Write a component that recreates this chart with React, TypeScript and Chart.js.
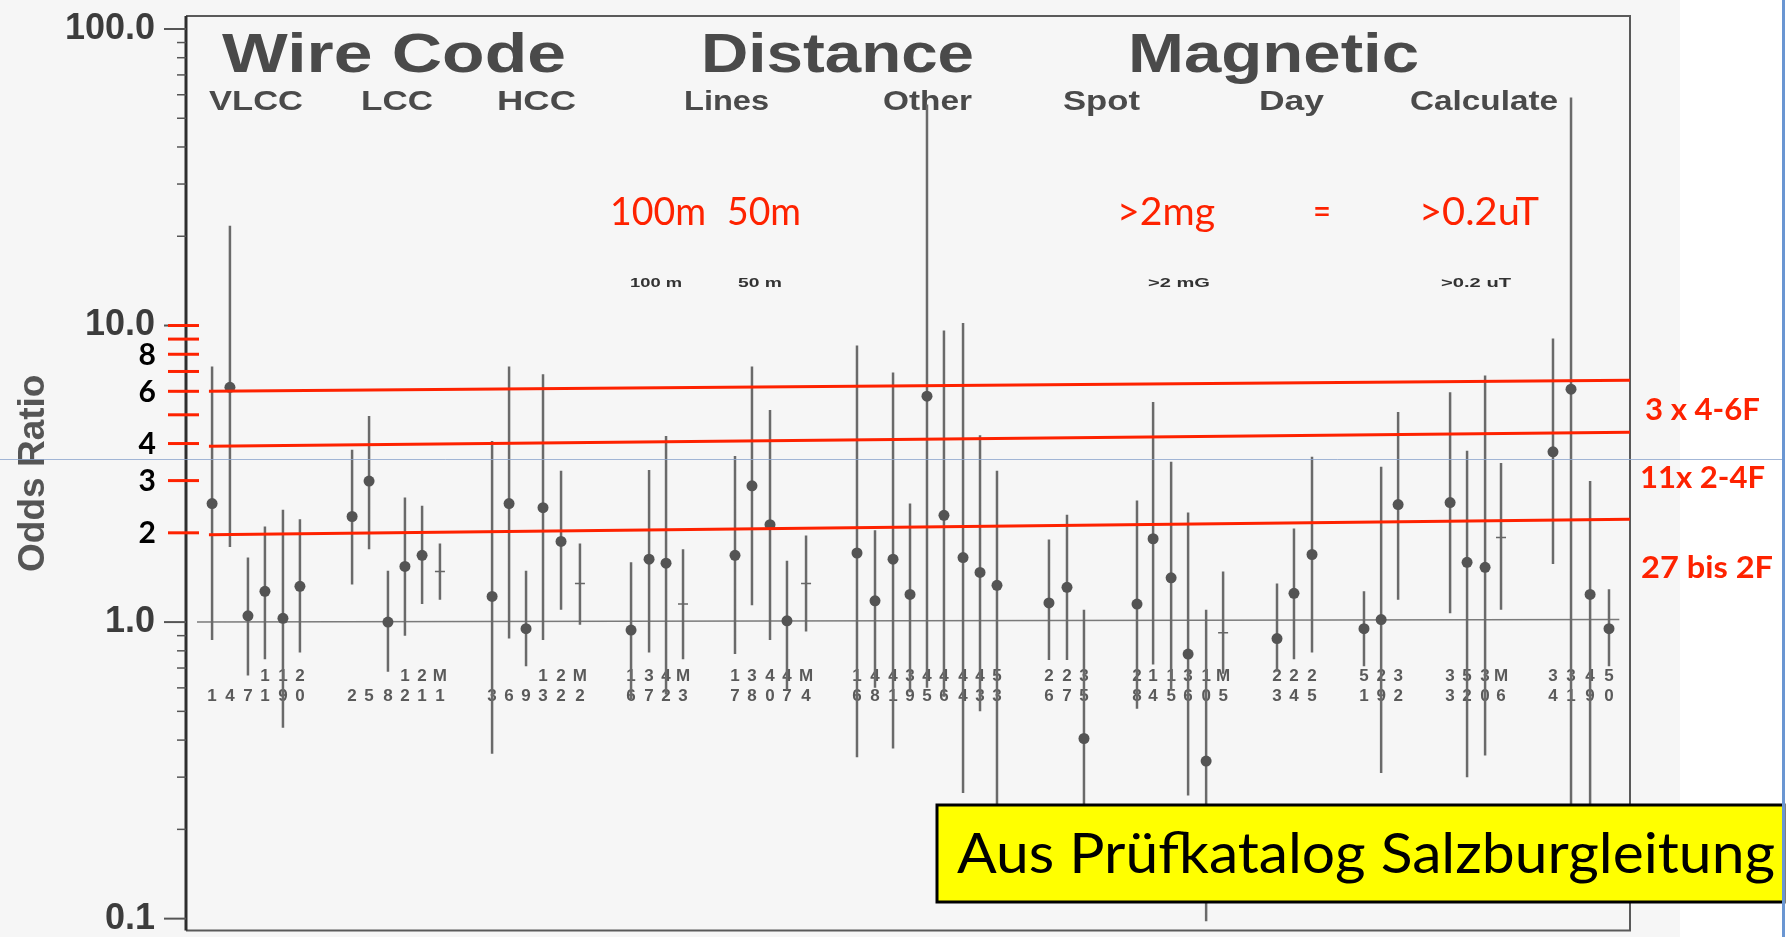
import React, { useEffect, useRef } from 'react';
import { Chart, registerables } from 'chart.js';

Chart.register(...registerables);

// ---------- data ----------
const groupTitles = ['Wire Code', 'Distance', 'Magnetic'];
const subgroupTitles = ['VLCC', 'LCC', 'HCC', 'Lines', 'Other', 'Spot', 'Day', 'Calculate'];
const redHeaderTexts = ['100m', '50m', '>2mg', '=', '>0.2uT'];
const smallHeaderTexts = ['100 m', '50 m', '>2 mG', '>0.2 uT'];
const annotationTexts = ['3 x 4-6F', '11x 2-4F', '27 bis 2F'];
const boxText = 'Aus Prüfkatalog Salzburgleitung';

// bar positions (slot units along the x axis)
const barX = [
  1.49, 2.51, 3.54, 4.51, 5.54, 6.51,
  9.49, 10.46, 11.54, 12.51, 13.49, 14.51,
  17.49, 18.46, 19.43, 20.4, 21.43, 22.51,
  25.43, 26.46, 27.43, 28.4,
  31.37, 32.34, 33.37, 34.34, 35.43,
  38.34, 39.37, 40.4, 41.37, 42.34, 43.31, 44.4, 45.37, 46.34,
  49.31, 50.34, 51.31,
  54.34, 55.26, 56.29, 57.26, 58.29, 59.26,
  62.34, 63.31, 64.34,
  67.31, 68.29, 69.26,
  72.23, 73.2, 74.23, 75.14,
  78.11, 79.14, 80.23, 81.31,
];
const estimates = [
  2.51, 6.19, 1.05, 1.27, 1.03, 1.32,
  2.27, 2.99, 1.0, 1.54, 1.68, 1.48,
  1.22, 2.51, 0.95, 2.43, 1.87, 1.35,
  0.94, 1.63, 1.58, 1.15,
  1.68, 2.88, 2.13, 1.01, 1.35,
  1.71, 1.18, 1.63, 1.24, 5.78, 2.29, 1.65, 1.47, 1.33,
  1.16, 1.31, 0.405,
  1.15, 1.91, 1.41, 0.78, 0.34, 0.92,
  0.88, 1.25, 1.69,
  0.95, 1.02, 2.49,
  2.53, 1.59, 1.53, 1.93,
  3.75, 6.1, 1.24, 0.95,
];
const lowerCI = [
  0.87, 1.79, 0.66, 0.75, 0.44, 0.79,
  1.34, 1.76, 0.68, 0.9, 1.15, 1.19,
  0.36, 0.88, 0.71, 0.87, 1.1, 0.98,
  0.55, 0.79, 0.57, 0.75,
  0.78, 1.14, 0.87, 0.59, 0.93,
  0.35, 0.6, 0.375, 0.58, 0.6, 0.56, 0.265, 0.5, 0.2,
  0.745, 0.745, 0.2,
  0.51, 0.72, 0.59, 0.26, 0.098, 0.67,
  0.68, 0.75, 0.79,
  0.71, 0.31, 1.19,
  1.07, 0.3, 0.355, 1.1,
  1.57, 0.2, 0.2, 0.71,
];
const upperCI = [
  7.28, 21.7, 1.65, 2.1, 2.39, 2.22,
  3.81, 4.95, 1.49, 2.63, 2.47, 1.84,
  4.08, 7.28, 1.49, 6.85, 3.24, 1.84,
  1.59, 3.26, 4.24, 1.76,
  3.63, 7.28, 5.19, 1.61, 1.96,
  8.57, 2.04, 6.95, 2.51, 55.6, 9.62, 10.2, 4.27, 3.24,
  1.9, 2.3, 1.1,
  2.57, 5.52, 3.47, 2.34, 1.1, 1.48,
  1.35, 2.07, 3.61,
  1.27, 3.34, 5.11,
  5.96, 3.78, 6.79, 3.44,
  9.04, 58.7, 2.99, 1.29,
];
const crossMarkerIdx = [11, 17, 21, 26, 44, 54];
const labelTopRows = ['   112', '   12M', '   12M', '134M', '1344M', '144344445', '223', '21131M', '222', '523', '353M', '3345'];
const labelBottomRows = ['147190', '258211', '369322', '6723', '78074', '681956433', '675', '845605', '345', '192', '3206', '4190'];

const yTickValues = [0.1, 1, 10, 100];
const yMin = 0.0912;
const yMax = 110.6;
const xMax = 82.51;

const refLineX = [0.63, 81.9];
const refLineY = [1.0, 1.02];
const thresholdX = [1.31, 82.51];
const thresholdStart = [6.0, 3.92, 1.97];
const thresholdEnd = [6.54, 4.37, 2.22];
const redTickValues = [2, 3, 4, 5, 6, 7, 8, 9, 10];
const redTickLabels = [8, 6, 4, 3, 2];

// ---------- helpers ----------
const labelTop = labelTopRows.join('').split('');
const labelBottom = labelBottomRows.join('').split('');

function fitText(ctx: CanvasRenderingContext2D, text: string, left: number, right: number, baseline: number, font: string, color: string) {
  ctx.save();
  ctx.font = font;
  ctx.fillStyle = color;
  ctx.textAlign = 'center';
  ctx.textBaseline = 'alphabetic';
  const w = ctx.measureText(text).width;
  const s = (right - left) / w;
  ctx.translate((left + right) / 2, baseline);
  ctx.scale(s, 1);
  ctx.fillText(text, 0, 0);
  ctx.restore();
}

const RED = '#fe2200';
const SCAN_GRAY = '#4a4a4a';

const decorPlugin = {
  id: 'scanDecor',
  beforeDraw(chart: any) {
    const { ctx, width, height } = chart;
    ctx.save();
    ctx.fillStyle = '#ffffff';
    ctx.fillRect(0, 0, width, height);
    ctx.fillStyle = '#f6f6f6';
    ctx.fillRect(0, 0, 1680, height);
    ctx.restore();
  },
  beforeDatasetsDraw(chart: any) {
    const { ctx, chartArea: ca, scales } = chart;
    const xs = scales.x;
    const ys = scales.y;
    ctx.save();
    // frame
    ctx.strokeStyle = '#5a5a5a';
    ctx.lineWidth = 2;
    ctx.beginPath();
    ctx.moveTo(ca.left, ca.top);
    ctx.lineTo(ca.right, ca.top);
    ctx.lineTo(ca.right, ca.bottom);
    ctx.lineTo(ca.left, ca.bottom);
    ctx.stroke();
    ctx.strokeStyle = '#2e2e2e';
    ctx.lineWidth = 3;
    ctx.beginPath();
    ctx.moveTo(ca.left, ca.top);
    ctx.lineTo(ca.left, ca.bottom);
    ctx.stroke();
    // scanned log ticks
    ctx.strokeStyle = '#555';
    for (let e = -1; e <= 2; e++) {
      for (let m = 1; m <= 9; m++) {
        const v = m * Math.pow(10, e);
        if (v > 100.001) continue;
        const py = ys.getPixelForValue(v);
        ctx.lineWidth = m === 1 ? 2 : 1.5;
        ctx.beginPath();
        ctx.moveTo(m === 1 ? ca.left - 22 : ca.left - 9, py);
        ctx.lineTo(ca.left, py);
        ctx.stroke();
      }
    }
    // headers
    const hFont = 'bold 56px "Liberation Sans"';
    fitText(ctx, groupTitles[0], 222, 566, 72, hFont, SCAN_GRAY);
    fitText(ctx, groupTitles[1], 701, 974, 72, hFont, SCAN_GRAY);
    fitText(ctx, groupTitles[2], 1128, 1419, 72, hFont, SCAN_GRAY);
    const sFont = 'bold 28px "Liberation Sans"';
    const subSpans = [[209, 303], [361, 433], [497, 576], [684, 769], [883, 972], [1063, 1140], [1259, 1324], [1410, 1558]];
    subgroupTitles.forEach((t, i) => fitText(ctx, t, subSpans[i][0], subSpans[i][1], 110, sFont, SCAN_GRAY));
    const smFont = 'bold 13px "Liberation Sans"';
    const smSpans = [[630, 682], [738, 782], [1148, 1210], [1441, 1511]];
    smallHeaderTexts.forEach((t, i) => fitText(ctx, t, smSpans[i][0], smSpans[i][1], 287, smFont, '#333'));
    // study labels under bars
    ctx.font = 'bold 17px "Liberation Sans"';
    ctx.fillStyle = '#5a5a5a';
    ctx.textAlign = 'center';
    ctx.textBaseline = 'middle';
    barX.forEach((bx, i) => {
      const px = xs.getPixelForValue(bx);
      if (labelTop[i] && labelTop[i] !== ' ') ctx.fillText(labelTop[i], px, 676);
      if (labelBottom[i]) ctx.fillText(labelBottom[i], px, 696);
    });
    ctx.restore();
  },
  afterDraw(chart: any) {
    const { ctx, scales, width, height } = chart;
    const ys = scales.y;
    ctx.save();
    // red ticks on the axis
    ctx.strokeStyle = RED;
    ctx.lineWidth = 3;
    redTickValues.forEach((v) => {
      const py = ys.getPixelForValue(v);
      ctx.beginPath();
      ctx.moveTo(168, py);
      ctx.lineTo(199, py);
      ctx.stroke();
    });
    ctx.font = 'bold 30px Lato';
    ctx.fillStyle = '#000';
    ctx.textAlign = 'right';
    ctx.textBaseline = 'middle';
    redTickLabels.forEach((v) => ctx.fillText(String(v), 156, ys.getPixelForValue(v) + 1));
    // red header texts
    const rFont = '38px Lato';
    const rSpans = [[610, 706], [727, 801], [1117, 1215], [1313, 1331], [1419, 1539]];
    redHeaderTexts.forEach((t, i) => fitText(ctx, t, rSpans[i][0], rSpans[i][1], 225, rFont, RED));
    // right annotations
    const aFont = 'bold 31px Lato';
    fitText(ctx, annotationTexts[0], 1645, 1760, 420, aFont, RED);
    fitText(ctx, annotationTexts[1], 1640, 1765, 488, aFont, RED);
    fitText(ctx, annotationTexts[2], 1641, 1773, 578, aFont, RED);
    // yellow box
    ctx.fillStyle = '#ffff00';
    ctx.fillRect(937, 805, 847, 97);
    ctx.strokeStyle = '#000';
    ctx.lineWidth = 3;
    ctx.strokeRect(937, 805, 847, 97);
    fitText(ctx, boxText, 957, 1775, 873, '56px Lato', '#000');
    // slide guide lines
    ctx.strokeStyle = 'rgba(140,165,205,0.8)';
    ctx.lineWidth = 1;
    ctx.beginPath();
    ctx.moveTo(0, 459.5);
    ctx.lineTo(1783, 459.5);
    ctx.stroke();
    ctx.fillStyle = '#6a96d2';
    ctx.fillRect(1782, 0, 3, height);
    ctx.restore();
  },
};

export default function App() {
  const ref = useRef<HTMLCanvasElement | null>(null);
  useEffect(() => {
    document.body.style.margin = '0';
    document.body.style.overflow = 'hidden';
    const canvas = ref.current;
    if (!canvas) return;

    const errorData: any[] = [];
    barX.forEach((x, i) => {
      errorData.push({ x, y: lowerCI[i] }, { x, y: upperCI[i] }, { x, y: null });
    });
    const dotData = barX.map((x, i) => ({ x, y: estimates[i] })).filter((_, i) => !crossMarkerIdx.includes(i));
    const crossData = crossMarkerIdx.map((i) => ({ x: barX[i], y: estimates[i] }));

    const thresholdSets = thresholdStart.map((s, k) => ({
      type: 'line',
      data: [{ x: thresholdX[0], y: s }, { x: thresholdX[1], y: thresholdEnd[k] }],
      borderColor: RED,
      borderWidth: 3,
      pointRadius: 0,
      clip: false,
    }));

    const chart = new Chart(canvas, {
      type: 'line',
      data: {
        datasets: [
          ...thresholdSets,
          {
            data: dotData,
            showLine: false,
            pointRadius: 5.5,
            pointBackgroundColor: '#545454',
            pointBorderWidth: 0,
          },
          {
            data: crossData,
            showLine: false,
            pointStyle: 'line',
            pointRadius: 5,
            pointBorderColor: '#666',
            pointBorderWidth: 1.5,
          },
          {
            data: errorData,
            borderColor: '#6a6a6a',
            borderWidth: 2.5,
            pointRadius: 0,
            spanGaps: false,
          },
          {
            data: [{ x: refLineX[0], y: refLineY[0] }, { x: refLineX[1], y: refLineY[1] }],
            borderColor: '#7a7a7a',
            borderWidth: 1.5,
            pointRadius: 0,
          },
        ] as any,
      },
      options: {
        responsive: false,
        animation: false,
        events: [],
        layout: { padding: { left: 0, right: 157, top: 16, bottom: 2 } },
        plugins: { legend: { display: false }, tooltip: { enabled: false } },
        scales: {
          x: { type: 'linear', min: 0, max: xMax, display: false },
          y: {
            type: 'logarithmic',
            min: yMin,
            max: yMax,
            position: 'left',
            grid: { display: false, drawTicks: false },
            border: { display: false },
            afterBuildTicks: (scale: any) => {
              scale.ticks = yTickValues.map((v) => ({ value: v }));
            },
            afterFit: (scale: any) => {
              scale.width = 186;
              scale.paddingTop = 0;
              scale.paddingBottom = 0;
            },
            ticks: {
              padding: 31,
              color: '#3c3c3c',
              font: { family: 'Liberation Sans', size: 36, weight: 'bold', lineHeight: 1 },
              callback: (v: any) => (Number(v) >= 1 ? Number(v).toFixed(1) : String(v)),
            },
            title: {
              display: true,
              text: 'Odds Ratio',
              color: '#555',
              font: { family: 'Liberation Sans', size: 37, weight: 'bold', lineHeight: 1 },
              padding: { top: 15, bottom: 0 },
            },
          },
        },
      } as any,
      plugins: [decorPlugin],
    });
    return () => chart.destroy();
  }, []);

  return (
    <div style={{ width: 1787, height: 937 }}>
      <canvas ref={ref} width={1787} height={937} style={{ display: 'block' }} />
    </div>
  );
}
